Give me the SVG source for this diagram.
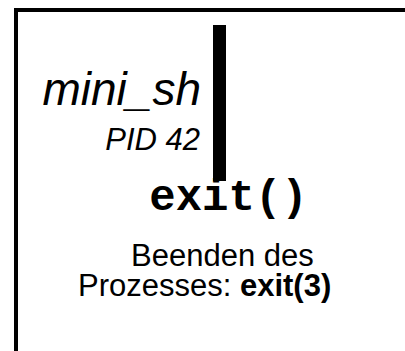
<svg xmlns="http://www.w3.org/2000/svg" width="405" height="351" viewBox="0 0 405 351">
<style>
.sans{font-family:"Liberation Sans",Arial,Helvetica,sans-serif;fill:#000}
.it{font-style:italic}
.mono{font-family:"Liberation Mono","Courier New",monospace;font-weight:bold;fill:#000}
.b{font-weight:bold}
</style>
<rect x="0" y="0" width="405" height="351" fill="#fff"/>
<g id="frame">
<rect x="14" y="8" width="391" height="4" fill="#000"/>
<rect x="14" y="8" width="4" height="343" fill="#000"/>
</g>
<g id="process">
<text class="sans it" x="201" y="105" font-size="46" text-anchor="end">mini_sh</text>
<text class="sans it" x="200" y="150" font-size="31" text-anchor="end">PID 42</text>
<rect id="lifeline" x="213" y="25" width="13" height="156" fill="#000"/>
</g>
<g id="connectors"></g>
<g id="exit">
<text class="mono" x="228.5" y="210" font-size="44" text-anchor="middle">exit()</text>
</g>
<g id="caption">
<text class="sans" x="131" y="266" font-size="31">Beenden des</text>
<text class="sans" x="78" y="296" font-size="31">Prozesses: <tspan class="b">exit(3)</tspan></text>
</g>
</svg>
